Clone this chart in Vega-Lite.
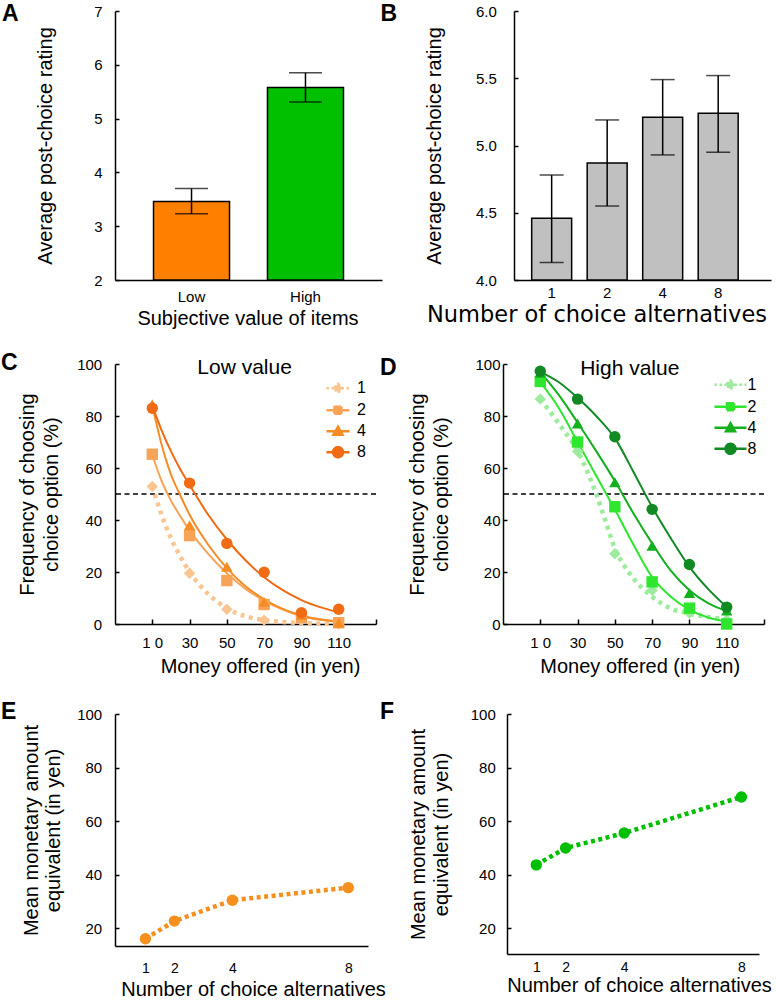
{
  "$schema": "https://vega.github.io/schema/vega-lite/v6.json",
  "padding": {"left": 1, "top": 3, "right": 0, "bottom": 0},
  "datasets": {
    "ratingValue": [
      {"item": "Low", "rating": 3.46, "lo": 3.23, "hi": 3.70},
      {"item": "High", "rating": 5.58, "lo": 5.31, "hi": 5.85}
    ],
    "ratingNumber": [
      {"n": "1", "rating": 4.46, "lo": 4.13, "hi": 4.78},
      {"n": "2", "rating": 4.87, "lo": 4.55, "hi": 5.19},
      {"n": "4", "rating": 5.21, "lo": 4.93, "hi": 5.49},
      {"n": "8", "rating": 5.24, "lo": 4.95, "hi": 5.52}
    ],
    "threshold": [{"freq": 50}],
    "labelLow": [{"label": "Low value"}],
    "labelHigh": [{"label": "High value"}],
    "pointsLow": [
      {"s": "1", "money": 10, "freq": 52.9}, {"s": "1", "money": 30, "freq": 19.5}, {"s": "1", "money": 50, "freq": 5.7},
      {"s": "1", "money": 70, "freq": 1.5}, {"s": "1", "money": 90, "freq": 3.0}, {"s": "1", "money": 110, "freq": 0},
      {"s": "2", "money": 10, "freq": 65.3}, {"s": "2", "money": 30, "freq": 34.0}, {"s": "2", "money": 50, "freq": 16.7},
      {"s": "2", "money": 70, "freq": 7.5}, {"s": "2", "money": 90, "freq": 2.5}, {"s": "2", "money": 110, "freq": 0.5},
      {"s": "4", "money": 10, "freq": 84.5}, {"s": "4", "money": 30, "freq": 38.0}, {"s": "4", "money": 50, "freq": 22.0},
      {"s": "4", "money": 70, "freq": 8.5}, {"s": "4", "money": 90, "freq": 3.5}, {"s": "4", "money": 110, "freq": 0.5},
      {"s": "8", "money": 10, "freq": 83.0}, {"s": "8", "money": 30, "freq": 54.2}, {"s": "8", "money": 50, "freq": 31.0},
      {"s": "8", "money": 70, "freq": 19.9}, {"s": "8", "money": 90, "freq": 4.3}, {"s": "8", "money": 110, "freq": 5.7}
    ],
    "curvesLow": [
      {"s": "1", "money": 10, "freq": 53}, {"s": "1", "money": 15, "freq": 42}, {"s": "1", "money": 20, "freq": 33},
      {"s": "1", "money": 25, "freq": 26}, {"s": "1", "money": 30, "freq": 20}, {"s": "1", "money": 35, "freq": 15.3},
      {"s": "1", "money": 40, "freq": 11.5}, {"s": "1", "money": 45, "freq": 8.5}, {"s": "1", "money": 50, "freq": 6},
      {"s": "1", "money": 60, "freq": 3}, {"s": "1", "money": 70, "freq": 1.5}, {"s": "1", "money": 80, "freq": 0.8},
      {"s": "1", "money": 90, "freq": 0.4}, {"s": "1", "money": 100, "freq": 0.2}, {"s": "1", "money": 110, "freq": 0.1},
      {"s": "2", "money": 10, "freq": 65}, {"s": "2", "money": 15, "freq": 55}, {"s": "2", "money": 20, "freq": 47.5},
      {"s": "2", "money": 25, "freq": 41.5}, {"s": "2", "money": 30, "freq": 36}, {"s": "2", "money": 40, "freq": 27},
      {"s": "2", "money": 50, "freq": 19.5}, {"s": "2", "money": 60, "freq": 13.5}, {"s": "2", "money": 70, "freq": 9},
      {"s": "2", "money": 80, "freq": 5.5}, {"s": "2", "money": 90, "freq": 3}, {"s": "2", "money": 100, "freq": 1.6},
      {"s": "2", "money": 110, "freq": 0.8},
      {"s": "4", "money": 10, "freq": 84}, {"s": "4", "money": 15, "freq": 69}, {"s": "4", "money": 20, "freq": 57.5},
      {"s": "4", "money": 25, "freq": 49.5}, {"s": "4", "money": 30, "freq": 42}, {"s": "4", "money": 40, "freq": 30.5},
      {"s": "4", "money": 50, "freq": 21.5}, {"s": "4", "money": 60, "freq": 14.5}, {"s": "4", "money": 70, "freq": 9.5},
      {"s": "4", "money": 80, "freq": 5.8}, {"s": "4", "money": 90, "freq": 3.3}, {"s": "4", "money": 100, "freq": 1.8},
      {"s": "4", "money": 110, "freq": 1},
      {"s": "8", "money": 10, "freq": 84}, {"s": "8", "money": 15, "freq": 74.5}, {"s": "8", "money": 20, "freq": 66.5},
      {"s": "8", "money": 25, "freq": 59.5}, {"s": "8", "money": 30, "freq": 53.5}, {"s": "8", "money": 40, "freq": 42},
      {"s": "8", "money": 50, "freq": 32.5}, {"s": "8", "money": 60, "freq": 24.5}, {"s": "8", "money": 70, "freq": 18},
      {"s": "8", "money": 80, "freq": 13}, {"s": "8", "money": 90, "freq": 9.2}, {"s": "8", "money": 100, "freq": 6.5},
      {"s": "8", "money": 110, "freq": 4.5}
    ],
    "pointsHigh": [
      {"s": "1", "money": 10, "freq": 86.5}, {"s": "1", "money": 30, "freq": 66.4}, {"s": "1", "money": 50, "freq": 27.0},
      {"s": "1", "money": 70, "freq": 13.0}, {"s": "1", "money": 90, "freq": 4.2}, {"s": "1", "money": 110, "freq": 1.6},
      {"s": "2", "money": 10, "freq": 93.3}, {"s": "2", "money": 30, "freq": 70.0}, {"s": "2", "money": 50, "freq": 45.1},
      {"s": "2", "money": 70, "freq": 16.2}, {"s": "2", "money": 90, "freq": 6.1}, {"s": "2", "money": 110, "freq": 0},
      {"s": "4", "money": 10, "freq": 96.6}, {"s": "4", "money": 30, "freq": 77.1}, {"s": "4", "money": 50, "freq": 54.5},
      {"s": "4", "money": 70, "freq": 30.1}, {"s": "4", "money": 90, "freq": 11.9}, {"s": "4", "money": 110, "freq": 5.2},
      {"s": "8", "money": 10, "freq": 97.2}, {"s": "8", "money": 30, "freq": 86.5}, {"s": "8", "money": 50, "freq": 72.0},
      {"s": "8", "money": 70, "freq": 44.1}, {"s": "8", "money": 90, "freq": 22.9}, {"s": "8", "money": 110, "freq": 6.5}
    ],
    "curvesHigh": [
      {"s": "1", "money": 10, "freq": 86.5}, {"s": "1", "money": 20, "freq": 77}, {"s": "1", "money": 30, "freq": 66.5},
      {"s": "1", "money": 35, "freq": 59}, {"s": "1", "money": 40, "freq": 50}, {"s": "1", "money": 45, "freq": 39.5},
      {"s": "1", "money": 50, "freq": 29}, {"s": "1", "money": 55, "freq": 22.5}, {"s": "1", "money": 60, "freq": 17.5},
      {"s": "1", "money": 70, "freq": 10.5}, {"s": "1", "money": 80, "freq": 6}, {"s": "1", "money": 90, "freq": 4},
      {"s": "1", "money": 100, "freq": 2.7}, {"s": "1", "money": 110, "freq": 1.7},
      {"s": "2", "money": 10, "freq": 93}, {"s": "2", "money": 20, "freq": 83}, {"s": "2", "money": 30, "freq": 70},
      {"s": "2", "money": 40, "freq": 57}, {"s": "2", "money": 50, "freq": 44}, {"s": "2", "money": 60, "freq": 30.5},
      {"s": "2", "money": 70, "freq": 18}, {"s": "2", "money": 80, "freq": 10.5}, {"s": "2", "money": 90, "freq": 5.5},
      {"s": "2", "money": 100, "freq": 2.5}, {"s": "2", "money": 110, "freq": 1},
      {"s": "4", "money": 10, "freq": 97}, {"s": "4", "money": 20, "freq": 88}, {"s": "4", "money": 30, "freq": 77.5},
      {"s": "4", "money": 40, "freq": 66.5}, {"s": "4", "money": 50, "freq": 55}, {"s": "4", "money": 60, "freq": 42.5},
      {"s": "4", "money": 70, "freq": 31}, {"s": "4", "money": 80, "freq": 20.5}, {"s": "4", "money": 90, "freq": 13},
      {"s": "4", "money": 100, "freq": 8}, {"s": "4", "money": 110, "freq": 5},
      {"s": "8", "money": 10, "freq": 97}, {"s": "8", "money": 20, "freq": 93}, {"s": "8", "money": 30, "freq": 87},
      {"s": "8", "money": 40, "freq": 80}, {"s": "8", "money": 50, "freq": 71.5}, {"s": "8", "money": 60, "freq": 58.5},
      {"s": "8", "money": 70, "freq": 45}, {"s": "8", "money": 80, "freq": 33}, {"s": "8", "money": 90, "freq": 22},
      {"s": "8", "money": 100, "freq": 13.5}, {"s": "8", "money": 110, "freq": 6.5}
    ],
    "equivLow": [
      {"n": 1, "amount": 16.1}, {"n": 2, "amount": 22.7}, {"n": 4, "amount": 30.5}, {"n": 8, "amount": 35.2}
    ],
    "equivHigh": [
      {"n": 1, "amount": 43.6}, {"n": 2, "amount": 49.9}, {"n": 4, "amount": 55.5}, {"n": 8, "amount": 69.0}
    ]
  },
  "resolve": {"scale": {"color": "independent", "shape": "independent"}, "legend": {"color": "independent", "shape": "independent"}},
  "spacing": 23,
  "vconcat": [
    {
      "hconcat": [
        {
          "width": 267, "height": 269,
          "title": {"text": "A", "dx": -113, "dy": 26},
          "data": {"name": "ratingValue"},
          "layer": [
            {
              "mark": {"type": "bar", "stroke": "black", "strokeWidth": 1.5},
              "encoding": {
                "x": {"field": "item", "type": "nominal", "sort": ["Low", "High"], "scale": {"paddingInner": 0.333, "paddingOuter": 0.338},
                      "axis": {"title": "Subjective value of items", "labelAngle": 0, "ticks": false, "labelPadding": 9, "titlePadding": 4, "titleX": 132.5}},
                "y": {"field": "rating", "type": "quantitative", "scale": {"domain": [2, 7], "nice": false, "zero": false},
                      "axis": {"title": "Average post-choice rating", "values": [2, 3, 4, 5, 6, 7], "tickSize": -4, "labelPadding": 17, "titlePadding": 37.7}},
                "y2": {"datum": 2},
                "color": {"field": "item", "type": "nominal", "scale": {"domain": ["Low", "High"], "range": ["#FF8000", "#00C000"]}, "legend": null}
              }
            },
            {
              "mark": {"type": "rule", "color": "black", "strokeWidth": 1.5},
              "encoding": {
                "x": {"field": "item", "type": "nominal", "sort": ["Low", "High"]},
                "y": {"field": "lo", "type": "quantitative"},
                "y2": {"field": "hi"}
              }
            },
            {
              "mark": {"type": "tick", "color": "black", "thickness": 1.5, "size": 33},
              "encoding": {"x": {"field": "item", "type": "nominal", "sort": ["Low", "High"]}, "y": {"field": "lo", "type": "quantitative"}}
            },
            {
              "mark": {"type": "tick", "color": "black", "thickness": 1.5, "size": 33},
              "encoding": {"x": {"field": "item", "type": "nominal", "sort": ["Low", "High"]}, "y": {"field": "hi", "type": "quantitative"}}
            }
          ]
        },
        {
          "width": 257, "height": 269,
          "title": {"text": "B", "dx": -133.5, "dy": 26},
          "data": {"name": "ratingNumber"},
          "layer": [
            {
              "mark": {"type": "bar", "stroke": "black", "strokeWidth": 1.5, "color": "#C0C0C0"},
              "encoding": {
                "x": {"field": "n", "type": "nominal", "sort": ["1", "2", "4", "8"], "scale": {"paddingInner": 0.28, "paddingOuter": 0.455, "align": 0.35},
                      "axis": {"title": "Number of choice alternatives", "labelAngle": 0, "ticks": false, "labelPadding": 5, "titlePadding": 3, "titleFont": "DejaVu Sans", "titleFontSize": 22.5, "titleX": 82.5}},
                "y": {"field": "rating", "type": "quantitative", "scale": {"domain": [4, 6], "nice": false, "zero": false},
                      "axis": {"title": "Average post-choice rating", "values": [4, 4.5, 5, 5.5, 6], "format": ".1f", "tickSize": -4, "labelPadding": 21.7, "titlePadding": 31.4}},
                "y2": {"datum": 4}
              }
            },
            {
              "mark": {"type": "rule", "color": "black", "strokeWidth": 1.5},
              "encoding": {
                "x": {"field": "n", "type": "nominal", "sort": ["1", "2", "4", "8"]},
                "y": {"field": "lo", "type": "quantitative"},
                "y2": {"field": "hi"}
              }
            },
            {
              "mark": {"type": "tick", "color": "black", "thickness": 1.5, "size": 24},
              "encoding": {"x": {"field": "n", "type": "nominal", "sort": ["1", "2", "4", "8"]}, "y": {"field": "lo", "type": "quantitative"}}
            },
            {
              "mark": {"type": "tick", "color": "black", "thickness": 1.5, "size": 24},
              "encoding": {"x": {"field": "n", "type": "nominal", "sort": ["1", "2", "4", "8"]}, "y": {"field": "hi", "type": "quantitative"}}
            }
          ]
        }
      ],
      "spacing": 132,
      "bounds": "flush",
      "resolve": {"scale": {"color": "independent", "shape": "independent"}, "legend": {"color": "independent", "shape": "independent"}}
    },
    {
      "hconcat": [
        {
          "width": 261, "height": 260,
          "title": {"text": "C", "dx": -114, "dy": 22},
          "layer": [
            {
              "data": {"name": "threshold"},
              "mark": {"type": "rule", "color": "black", "strokeWidth": 1.5, "strokeDash": [5, 3.5]},
              "encoding": {
                "y": {"field": "freq", "type": "quantitative", "scale": {"domain": [0, 100], "nice": false},
                      "axis": {"title": ["Frequency of choosing", "choice option (%)"], "values": [0, 20, 40, 60, 80, 100], "tickSize": -4, "labelPadding": 17.3, "titlePadding": 15, "titleLineHeight": 24}}
              }
            },
            {
              "data": {"name": "curvesLow"},
              "transform": [{"filter": "datum.s == '1'"}],
              "mark": {"type": "line", "interpolate": "monotone", "strokeWidth": 4.5, "strokeDash": [4, 4.5]},
              "encoding": {
                "x": {"field": "money", "type": "quantitative", "scale": {"domain": [-10, 130], "nice": false, "zero": false},
                      "axis": {"title": "Money offered (in yen)", "values": [10, 30, 50, 70, 90, 110, 130], "tickSize": -5, "labelPadding": 16.7, "titlePadding": 5.5, "titleX": 145,
                               "labelExpr": "datum.value == 10 ? '1 0' : datum.value == 130 ? '' : datum.label"}},
                "y": {"field": "freq", "type": "quantitative"},
                "color": {"field": "s", "type": "nominal", "scale": {"domain": ["1", "2", "4", "8"], "range": ["#FAC591", "#F8A458", "#F68C24", "#F16B14"]}}
              }
            },
            {
              "data": {"name": "curvesLow"},
              "transform": [{"filter": "datum.s != '1'"}],
              "mark": {"type": "line", "interpolate": "monotone", "strokeWidth": 2},
              "encoding": {
                "x": {"field": "money", "type": "quantitative"},
                "y": {"field": "freq", "type": "quantitative"},
                "color": {"field": "s", "type": "nominal"}
              }
            },
            {
              "data": {"name": "pointsLow"},
              "mark": {"type": "point", "filled": true, "opacity": 1, "size": 130, "strokeWidth": 0},
              "encoding": {
                "x": {"field": "money", "type": "quantitative"},
                "y": {"field": "freq", "type": "quantitative"},
                "color": {"field": "s", "type": "nominal",
                          "legend": {"title": null, "orient": "none", "legendX": 211.5, "legendY": 12.7, "padding": 0, "rowPadding": 1, "symbolSize": 400, "labelOffset": 7.5, "labelFontSize": 16,
                                     "encoding": {"symbols": {
                                       "shape": {"value": {"expr": "datum.value == '1' ? 'M-1.15,0H1.15M0,-0.45L0.45,0L0,0.45L-0.45,0Z' : datum.value == '2' ? 'M-1.15,0H1.15M-0.35,-0.35H0.35V0.35H-0.35Z' : datum.value == '4' ? 'M-1.15,0H1.15M0,-0.45L0.45,0.35H-0.45Z' : 'M-1.15,0H1.15M-0.5,0A0.5,0.5,0,1,0,0.5,0A0.5,0.5,0,1,0,-0.5,0Z'"}},
                                       "fill": {"value": {"expr": "datum.value == '1' ? '#FAC591' : datum.value == '2' ? '#F8A458' : datum.value == '4' ? '#F68C24' : '#F16B14'"}},
                                       "stroke": {"value": {"expr": "datum.value == '1' ? '#FAC591' : datum.value == '2' ? '#F8A458' : datum.value == '4' ? '#F68C24' : '#F16B14'"}},
                                       "strokeDash": {"value": {"expr": "datum.value == '1' ? [2.5, 2.5] : [1, 0]"}},
                                       "strokeWidth": {"value": 2.5},
                                       "size": {"value": 400},
                                       "opacity": {"value": 1}
                                     }}}},
                "shape": {"field": "s", "type": "nominal", "scale": {"range": ["diamond", "square", "triangle-up", "circle"]}, "legend": null}
              }
            },
            {
              "data": {"name": "labelLow"},
              "mark": {"type": "text", "fontSize": 21, "font": "Liberation Sans", "color": "black"},
              "encoding": {"x": {"datum": 59.5}, "y": {"datum": 98.5}, "text": {"field": "label"}}
            }
          ]
        },
        {
          "width": 261, "height": 260,
          "title": {"text": "D", "dx": -123, "dy": 27.3},
          "layer": [
            {
              "data": {"name": "threshold"},
              "mark": {"type": "rule", "color": "black", "strokeWidth": 1.5, "strokeDash": [5, 3.5]},
              "encoding": {
                "y": {"field": "freq", "type": "quantitative", "scale": {"domain": [0, 100], "nice": false},
                      "axis": {"title": ["Frequency of choosing", "choice option (%)"], "values": [0, 20, 40, 60, 80, 100], "tickSize": -4, "labelPadding": 7, "titlePadding": 23.7, "titleLineHeight": 23.4}}
              }
            },
            {
              "data": {"name": "curvesHigh"},
              "transform": [{"filter": "datum.s == '1'"}],
              "mark": {"type": "line", "interpolate": "monotone", "strokeWidth": 4.5, "strokeDash": [4, 4.5]},
              "encoding": {
                "x": {"field": "money", "type": "quantitative", "scale": {"domain": [-10, 130], "nice": false, "zero": false},
                      "axis": {"title": "Money offered (in yen)", "values": [10, 30, 50, 70, 90, 110, 130], "tickSize": -5, "labelPadding": 16.7, "titlePadding": 5.5, "titleX": 136.7,
                               "labelExpr": "datum.value == 10 ? '1 0' : datum.value == 130 ? '' : datum.label"}},
                "y": {"field": "freq", "type": "quantitative"},
                "color": {"field": "s", "type": "nominal", "scale": {"domain": ["1", "2", "4", "8"], "range": ["#9DEB9D", "#2EE62E", "#12B01C", "#118A24"]}}
              }
            },
            {
              "data": {"name": "curvesHigh"},
              "transform": [{"filter": "datum.s != '1'"}],
              "mark": {"type": "line", "interpolate": "monotone", "strokeWidth": 2},
              "encoding": {
                "x": {"field": "money", "type": "quantitative"},
                "y": {"field": "freq", "type": "quantitative"},
                "color": {"field": "s", "type": "nominal"}
              }
            },
            {
              "data": {"name": "pointsHigh"},
              "mark": {"type": "point", "filled": true, "opacity": 1, "size": 130, "strokeWidth": 0},
              "encoding": {
                "x": {"field": "money", "type": "quantitative"},
                "y": {"field": "freq", "type": "quantitative"},
                "color": {"field": "s", "type": "nominal",
                          "legend": {"title": null, "orient": "none", "legendX": 216, "legendY": 9.3, "padding": 0, "rowPadding": 1, "symbolSize": 400, "labelOffset": 5.5, "labelFontSize": 16,
                                     "encoding": {"symbols": {
                                       "shape": {"value": {"expr": "datum.value == '1' ? 'M-1.6,0H1.6M0,-0.45L0.45,0L0,0.45L-0.45,0Z' : datum.value == '2' ? 'M-1.6,0H1.6M-0.35,-0.35H0.35V0.35H-0.35Z' : datum.value == '4' ? 'M-1.6,0H1.6M0,-0.45L0.45,0.35H-0.45Z' : 'M-1.6,0H1.6M-0.5,0A0.5,0.5,0,1,0,0.5,0A0.5,0.5,0,1,0,-0.5,0Z'"}},
                                       "fill": {"value": {"expr": "datum.value == '1' ? '#9DEB9D' : datum.value == '2' ? '#2EE62E' : datum.value == '4' ? '#12B01C' : '#118A24'"}},
                                       "stroke": {"value": {"expr": "datum.value == '1' ? '#9DEB9D' : datum.value == '2' ? '#2EE62E' : datum.value == '4' ? '#12B01C' : '#118A24'"}},
                                       "strokeDash": {"value": {"expr": "datum.value == '1' ? [2.5, 2.5] : [1, 0]"}},
                                       "strokeWidth": {"value": 2.5},
                                       "size": {"value": 400},
                                       "opacity": {"value": 1}
                                     }}}},
                "shape": {"field": "s", "type": "nominal", "scale": {"range": ["diamond", "square", "triangle-up", "circle"]}, "legend": null}
              }
            },
            {
              "data": {"name": "labelHigh"},
              "mark": {"type": "text", "fontSize": 21, "font": "Liberation Sans", "color": "black"},
              "encoding": {"x": {"datum": 58}, "y": {"datum": 98}, "text": {"field": "label"}}
            }
          ]
        }
      ],
      "spacing": 127,
      "bounds": "flush",
      "resolve": {"scale": {"color": "independent", "shape": "independent"}, "legend": {"color": "independent", "shape": "independent"}}
    },
    {
      "hconcat": [
        {
          "width": 253, "height": 232,
          "title": {"text": "E", "dx": -114, "dy": 20.5},
          "data": {"name": "equivLow"},
          "layer": [
            {
              "mark": {"type": "line", "color": "#F78F1F", "strokeWidth": 4.5, "strokeDash": [4, 3.5]},
              "encoding": {
                "x": {"field": "n", "type": "quantitative", "scale": {"domain": [-0.05, 8.68], "nice": false, "zero": false},
                      "axis": {"title": "Number of choice alternatives", "values": [1, 2, 4, 8], "ticks": false, "labelPadding": 15, "titlePadding": 4, "titleX": 138, "labelFontSize": 14}},
                "y": {"field": "amount", "type": "quantitative", "scale": {"domain": [13.4, 100], "nice": false, "zero": false},
                      "axis": {"title": ["Mean monetary amount", "equivalent (in yen)"], "values": [20, 40, 60, 80, 100], "tickSize": -4, "labelPadding": 17.3, "titlePadding": 13.4, "titleLineHeight": 22}}
              }
            },
            {
              "mark": {"type": "point", "filled": true, "opacity": 1, "size": 130, "color": "#F78F1F", "shape": "circle"},
              "encoding": {"x": {"field": "n", "type": "quantitative"}, "y": {"field": "amount", "type": "quantitative"}}
            }
          ]
        },
        {
          "width": 252, "height": 240,
          "title": {"text": "F", "dx": -127, "dy": 20.5},
          "data": {"name": "equivHigh"},
          "layer": [
            {
              "mark": {"type": "line", "color": "#00BF00", "strokeWidth": 4.5, "strokeDash": [4, 3.5]},
              "encoding": {
                "x": {"field": "n", "type": "quantitative", "scale": {"domain": [0, 8.6], "nice": false, "zero": false},
                      "axis": {"title": "Number of choice alternatives", "values": [1, 2, 4, 8], "ticks": false, "labelPadding": 6.5, "titlePadding": 0.5, "titleX": 132, "labelFontSize": 14}},
                "y": {"field": "amount", "type": "quantitative", "scale": {"domain": [10.3, 100], "nice": false, "zero": false},
                      "axis": {"title": ["Mean monetary amount", "equivalent (in yen)"], "values": [20, 40, 60, 80, 100], "tickSize": -4, "labelPadding": 15.7, "titlePadding": 19, "titleLineHeight": 22.5}}
              }
            },
            {
              "mark": {"type": "point", "filled": true, "opacity": 1, "size": 130, "color": "#00BF00", "shape": "circle"},
              "encoding": {"x": {"field": "n", "type": "quantitative"}, "y": {"field": "amount", "type": "quantitative"}}
            }
          ]
        }
      ],
      "spacing": 139,
      "bounds": "flush",
      "resolve": {"scale": {"color": "independent", "shape": "independent"}, "legend": {"color": "independent", "shape": "independent"}}
    }
  ],
  "config": {
    "font": "Liberation Sans",
    "view": {"stroke": null},
    "axis": {"domainColor": "black", "domainWidth": 1.5, "tickColor": "black", "tickWidth": 1.5, "labelColor": "black", "titleColor": "black",
             "labelFontSize": 15, "titleFontSize": 20, "titleFontWeight": "normal", "grid": false, "labelFont": "Liberation Sans", "titleFont": "Liberation Sans"},
    "title": {"anchor": "start", "frame": "group", "fontSize": 23, "fontWeight": "bold", "font": "Liberation Sans", "color": "black", "baseline": "top", "offset": 0},
    "legend": {"labelFont": "Liberation Sans", "labelFontSize": 16, "labelColor": "black"}
  }
}
